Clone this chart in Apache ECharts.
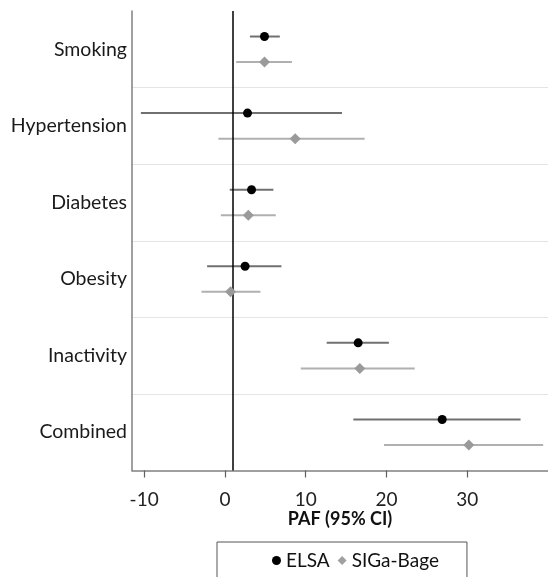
<!DOCTYPE html>
<html>
<head>
<meta charset="utf-8">
<script src="https://cdn.jsdelivr.net/npm/echarts@6/dist/echarts.min.js"></script>
<style>
html,body{margin:0;padding:0;background:#fff;}
#chart{width:548px;height:577px;}
</style>
</head>
<body>
<div id="chart"></div>
<script>
var categories = ['Smoking', 'Hypertension', 'Diabetes', 'Obesity', 'Inactivity', 'Combined'];
var elsaEst  = [4.9, 2.8, 3.3, 2.5, 16.5, 26.9];
var elsaLow  = [3.1, -10.4, 0.6, -2.2, 12.6, 15.9];
var elsaHigh = [6.8, 14.5, 6.0, 7.0, 20.3, 36.6];
var sigaEst  = [4.9, 8.7, 2.9, 0.7, 16.7, 30.2];
var sigaLow  = [1.4, -0.8, -0.5, -2.9, 9.4, 19.7];
var sigaHigh = [8.3, 17.3, 6.3, 4.4, 23.5, 39.4];
var xTicks = [-10, 0, 10, 20, 30];
var refValue = 1;
var seriesNames = ['ELSA', 'SIGa-Bage'];

var FONT = 'Lato';
// each category occupies 3 units on the y value axis; ELSA at +1, SIGa at +2
function rowPos(i, k) { return i * 3 + k; }

var elsaPts = elsaEst.map(function (v, i) { return [v, rowPos(i, 1)]; });
var sigaPts = sigaEst.map(function (v, i) { return [v, rowPos(i, 2)]; });
var elsaCI = elsaLow.map(function (v, i) { return [v, elsaHigh[i], rowPos(i, 1)]; });
var sigaCI = sigaLow.map(function (v, i) { return [v, sigaHigh[i], rowPos(i, 2)]; });
var labelPos = categories.map(function (c, i) { return rowPos(i, 1.5); });

function ciRender(color) {
  return function (params, api) {
    var a = api.coord([api.value(0), api.value(2)]);
    var b = api.coord([api.value(1), api.value(2)]);
    return {
      type: 'line',
      shape: { x1: a[0], y1: a[1], x2: b[0], y2: b[1] },
      style: { stroke: color, lineWidth: 2 }
    };
  };
}

var chart = echarts.init(document.getElementById('chart'), null, { renderer: 'canvas' });
chart.setOption({
  animation: false,
  backgroundColor: '#ffffff',
  textStyle: { fontFamily: FONT },
  grid: { left: 132, right: 0, top: 11, bottom: 106.5, containLabel: false },
  xAxis: {
    type: 'value',
    position: 'bottom',
    min: -11.5,
    max: 40,
    name: 'PAF (95% CI)',
    nameLocation: 'middle',
    nameGap: 40,
    nameMoveOverlap: false,
    nameTextStyle: { fontFamily: FONT, fontWeight: 'bold', fontSize: 18, color: '#111' },
    axisLine: { show: true, onZero: false, lineStyle: { color: '#808080', width: 1.5 } },
    axisTick: { show: true, length: 7, customValues: xTicks, lineStyle: { color: '#606060', width: 1.2 } },
    axisLabel: { customValues: xTicks, fontFamily: FONT, fontSize: 19, color: '#222', margin: 20 },
    splitLine: { show: false }
  },
  yAxis: {
    type: 'value',
    position: 'left',
    inverse: true,
    min: 0,
    max: 18,
    interval: 3,
    axisLine: { show: true, onZero: false, lineStyle: { color: '#808080', width: 1.5 } },
    axisTick: { show: false },
    axisLabel: {
      customValues: labelPos,
      fontFamily: FONT, fontSize: 19.5, color: '#1a1a1a', margin: 5,
      formatter: function (v) { return categories[Math.round((v - 1.5) / 3)] || ''; }
    },
    splitLine: { show: true, showMinLine: false, showMaxLine: false, lineStyle: { color: '#e4e4e4', width: 1.2 } }
  },
  legend: {
    data: [
      { name: seriesNames[0], icon: 'circle', itemStyle: { color: '#000' } },
      { name: seriesNames[1], icon: 'diamond', itemStyle: { color: '#a0a0a0' } }
    ],
    left: 217,
    top: 542,
    orient: 'horizontal',
    itemWidth: 9,
    itemHeight: 9,
    itemGap: 8,
    padding: [9, 28, 30, 55],
    borderColor: '#555',
    borderWidth: 1,
    textStyle: { fontFamily: FONT, fontSize: 19, color: '#111' }
  },
  series: [
    {
      name: 'ELSA CI', type: 'custom', renderItem: ciRender('#707070'),
      encode: { x: [0, 1], y: 2 }, data: elsaCI, z: 2, silent: true
    },
    {
      name: 'SIGa CI', type: 'custom', renderItem: ciRender('#b0b0b0'),
      encode: { x: [0, 1], y: 2 }, data: sigaCI, z: 2, silent: true
    },
    {
      name: seriesNames[0], type: 'scatter', symbol: 'circle', symbolSize: 9,
      itemStyle: { color: '#000', opacity: 1 }, data: elsaPts, z: 5,
      markLine: {
        silent: true, symbol: 'none', label: { show: false },
        lineStyle: { color: '#000', type: 'solid', width: 1.5 },
        data: [{ xAxis: refValue }]
      }
    },
    {
      name: seriesNames[1], type: 'scatter', symbol: 'diamond', symbolSize: [11, 11],
      itemStyle: { color: '#9a9a9a', opacity: 1 }, data: sigaPts, z: 5
    }
  ]
});
</script>
</body>
</html>
